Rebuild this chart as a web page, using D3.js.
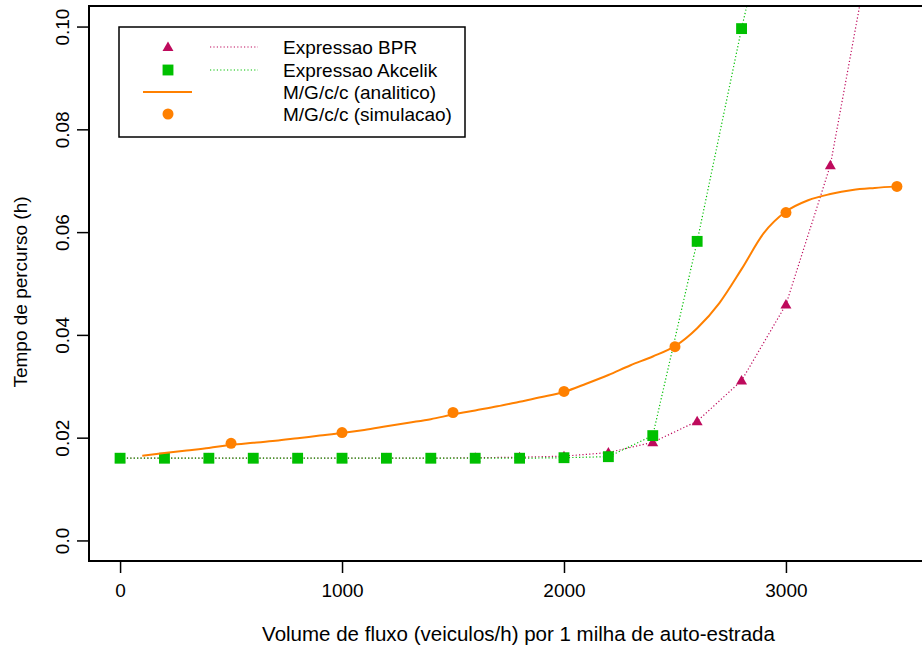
<!DOCTYPE html>
<html>
<head>
<meta charset="utf-8">
<script src="https://cdn.jsdelivr.net/npm/d3@7"></script>
<style>
  body { margin: 0; background: #fff; }
  text { font-family: "Liberation Sans", Arial, sans-serif; fill: #000; }
</style>
</head>
<body>
<svg id="chart" width="922" height="647"></svg>
<script>
// volume de fluxo (veiculos/h)
const bprX = [0, 200, 400, 600, 800, 1000, 1200, 1400, 1600, 1800, 2000, 2200, 2400, 2600, 2800, 3000, 3200, 3400];
const bprY = [0.016, 0.016, 0.016, 0.016, 0.016, 0.016, 0.016, 0.0160, 0.0161, 0.0162, 0.0164, 0.0171, 0.0191, 0.0232, 0.0311, 0.0459, 0.073, 0.120];
const akcX = [0, 200, 400, 600, 800, 1000, 1200, 1400, 1600, 1800, 2000, 2200, 2400, 2600, 2800, 3000];
const akcY = [0.016, 0.016, 0.016, 0.016, 0.016, 0.016, 0.016, 0.016, 0.016, 0.016, 0.0161, 0.0163, 0.0204, 0.0582, 0.0996, 0.137];
const anaX = [100, 200, 300, 400, 500, 600, 700, 800, 900, 1000, 1100, 1200, 1300, 1400, 1500, 1600, 1700, 1800,
  1900, 2000, 2100, 2200, 2300, 2400, 2500, 2600, 2700, 2800, 2900, 3000, 3100, 3200, 3300, 3400, 3500];
const anaY = [0.0165, 0.0170, 0.0175, 0.0180, 0.0186, 0.0190, 0.0194, 0.0199, 0.0204, 0.0209, 0.0215, 0.0222, 0.0229,
  0.0236, 0.0245, 0.0253, 0.0261, 0.0270, 0.0279, 0.0289, 0.0305, 0.0322, 0.0341, 0.0358, 0.0378, 0.0413, 0.0462,
  0.0528, 0.0598, 0.0640, 0.0662, 0.0674, 0.0682, 0.0686, 0.0689];
const simX = [500, 1000, 1500, 2000, 2500, 3000, 3500];
const simY = [0.0189, 0.0210, 0.0249, 0.0290, 0.0377, 0.0638, 0.0689];

const xTicks = [0, 1000, 2000, 3000];
const yTicks = [0, 0.02, 0.04, 0.06, 0.08, 0.10];
const yTickLabels = ['0.0', '0.02', '0.04', '0.06', '0.08', '0.10'];

const legendLabels = ['Expressao BPR', 'Expressao Akcelik', 'M/G/c/c (analitico)', 'M/G/c/c (simulacao)'];

const BPR_COL = '#be0a5c';
const AKC_COL = '#00c000';
const ORANGE = '#ff8000';
const FS = 19;

const plot = { left: 89, top: 6, right: 928, bottom: 561 };

const svg = d3.select('#chart');
const x = d3.scaleLinear().domain([-140, 3640]).range([plot.left, plot.right]);
const y = d3.scaleLinear().domain([-0.004, 0.104]).range([plot.bottom, plot.top]);

svg.append('defs').append('clipPath').attr('id', 'clip')
  .append('rect')
  .attr('x', plot.left).attr('y', plot.top)
  .attr('width', plot.right - plot.left).attr('height', plot.bottom - plot.top);

const zip = (xs, ys) => xs.map((v, i) => [v, ys[i]]);
const dataLayer = svg.append('g').attr('clip-path', 'url(#clip)');

const line = d3.line().x(d => x(d[0])).y(d => y(d[1]));
const smooth = d3.line().x(d => x(d[0])).y(d => y(d[1])).curve(d3.curveMonotoneX);

const tri = d3.symbol().type(d3.symbolTriangle).size(52);
const sq = d3.symbol().type(d3.symbolSquare).size(118);

// BPR
dataLayer.append('path')
  .datum(zip(bprX, bprY))
  .attr('d', line)
  .attr('fill', 'none').attr('stroke', BPR_COL).attr('stroke-width', 1.2)
  .attr('stroke-dasharray', '1.2,2.2');
dataLayer.selectAll('.tri').data(zip(bprX, bprY)).enter().append('path')
  .attr('class', 'tri')
  .attr('d', tri)
  .attr('transform', d => `translate(${x(d[0])},${y(d[1]) + 0.8})`)
  .attr('fill', BPR_COL);

// Akcelik
dataLayer.append('path')
  .datum(zip(akcX, akcY))
  .attr('d', line)
  .attr('fill', 'none').attr('stroke', AKC_COL).attr('stroke-width', 1.2)
  .attr('stroke-dasharray', '1.2,2.2');
dataLayer.selectAll('.sq').data(zip(akcX, akcY)).enter().append('path')
  .attr('class', 'sq')
  .attr('d', sq)
  .attr('transform', d => `translate(${x(d[0])},${y(d[1])})`)
  .attr('fill', AKC_COL);

// analitico
dataLayer.append('path')
  .datum(zip(anaX, anaY))
  .attr('d', smooth)
  .attr('fill', 'none').attr('stroke', ORANGE).attr('stroke-width', 2);

// simulacao
dataLayer.selectAll('.pt').data(zip(simX, simY)).enter().append('circle')
  .attr('class', 'pt')
  .attr('cx', d => x(d[0])).attr('cy', d => y(d[1])).attr('r', 5.5)
  .attr('fill', ORANGE);

// box
svg.append('rect')
  .attr('x', plot.left).attr('y', plot.top)
  .attr('width', plot.right - plot.left).attr('height', plot.bottom - plot.top)
  .attr('fill', 'none').attr('stroke', '#000').attr('stroke-width', 2);

// axes
const xAxis = svg.append('g').attr('transform', `translate(0,${plot.bottom})`)
  .call(d3.axisBottom(x).tickValues(xTicks).tickSize(12).tickPadding(11).tickFormat(d3.format('d')));
xAxis.select('.domain').remove();
const yAxis = svg.append('g').attr('transform', `translate(${plot.left},0)`)
  .call(d3.axisLeft(y).tickValues(yTicks).tickSize(12).tickFormat((d, i) => yTickLabels[i]));
yAxis.select('.domain').remove();
svg.selectAll('.tick line').attr('stroke', '#000').attr('stroke-width', 1.5);
svg.selectAll('.tick text').attr('font-size', FS).attr('font-family', '"Liberation Sans", Arial, sans-serif');
yAxis.selectAll('.tick text')
  .attr('x', null).attr('dy', null)
  .attr('text-anchor', 'middle')
  .attr('transform', 'translate(-20,0) rotate(-90)')
  .attr('dy', '0');

svg.append('text')
  .attr('x', (x(0) + x(3500)) / 2 + 10).attr('y', 641)
  .attr('text-anchor', 'middle').attr('font-size', 20.5)
  .text('Volume de fluxo (veiculos/h) por 1 milha de auto-estrada');
svg.append('text')
  .attr('transform', 'translate(27,292) rotate(-90)')
  .attr('text-anchor', 'middle').attr('font-size', FS)
  .text('Tempo de percurso (h)');

// legend
const leg = svg.append('g');
leg.append('rect')
  .attr('x', 119).attr('y', 27).attr('width', 346).attr('height', 110)
  .attr('fill', '#fff').attr('stroke', '#000').attr('stroke-width', 1.5);
const rows = [47, 70, 92, 114];
leg.append('path').attr('d', tri).attr('transform', `translate(168,${rows[0] + 0.8})`).attr('fill', BPR_COL);
leg.append('path').attr('d', sq).attr('transform', `translate(168,${rows[1]})`).attr('fill', AKC_COL);
leg.append('line').attr('x1', 143).attr('x2', 192).attr('y1', rows[2]).attr('y2', rows[2])
  .attr('stroke', ORANGE).attr('stroke-width', 2);
leg.append('circle').attr('cx', 168).attr('cy', rows[3]).attr('r', 5.5).attr('fill', ORANGE);
[[BPR_COL, rows[0]], [AKC_COL, rows[1]]].forEach(([c, yy]) => {
  leg.append('line').attr('x1', 210).attr('x2', 258).attr('y1', yy).attr('y2', yy)
    .attr('stroke', c).attr('stroke-width', 1.2).attr('stroke-dasharray', '1.2,2.2');
});
leg.selectAll('.lab').data(legendLabels).enter().append('text')
  .attr('x', 283).attr('y', (d, i) => rows[i]).attr('dy', '0.35em')
  .attr('font-size', FS).text(d => d);
</script>
</body>
</html>
